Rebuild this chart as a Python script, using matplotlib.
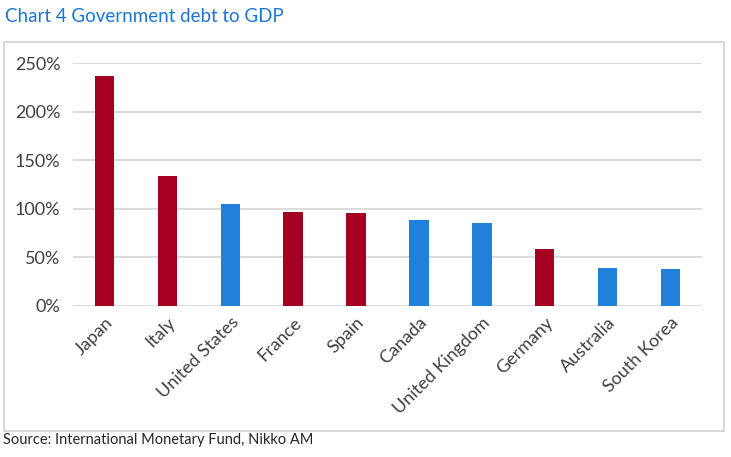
import matplotlib
matplotlib.use("Agg")
import matplotlib.pyplot as plt
from matplotlib.patches import Rectangle
from matplotlib.ticker import FuncFormatter

countries = ["Japan", "Italy", "United States", "France", "Spain", "Canada",
             "United Kingdom", "Germany", "Australia", "South Korea"]
debt_pct = [237, 134, 105, 97, 96, 88, 85, 59, 39, 38]
group = ["red", "red", "blue", "red", "red", "blue", "blue", "red", "blue", "blue"]
yticks = [0, 50, 100, 150, 200, 250]

palette = {"red": "#A50021", "blue": "#2180DA"}
plt.rcParams['font.family'] = ['Lato', 'DejaVu Sans']

W, H = 731, 457
fig = plt.figure(figsize=(W / 100, H / 100), dpi=100)
ax = fig.add_axes([73 / W, 1 - 306 / H, (702 - 73) / W, (306 - 63) / H])

x = list(range(len(countries)))
ax.bar(x, debt_pct, width=0.31, color=[palette[g] for g in group], zorder=3)
ax.set_xlim(-0.5, len(countries) - 0.5)
ax.set_ylim(0, 250)
ax.set_yticks(yticks)
ax.yaxis.set_major_formatter(FuncFormatter(lambda v, p: f"{v:.0f}%"))
ax.grid(axis="y", color="#D9D9D9", linewidth=1.3, zorder=0)
for s in ax.spines.values():
    s.set_visible(False)
ax.tick_params(axis="both", length=0, colors="#404040", labelsize=13)
ax.tick_params(axis="y", pad=9)
ax.set_xticks(x)
ax.set_xticklabels(countries, rotation=45, ha="right", rotation_mode="anchor")
ax.tick_params(axis="x", pad=6)

# border box
fig.patches.append(Rectangle((4 / W, 1 - 431 / H), (724 - 4) / W, (431 - 42) / H,
                             transform=fig.transFigure, fill=False,
                             edgecolor="#D9D9D9", linewidth=1.5))

fig.text(5 / W, 1 - 17 / H, "Chart 4 Government debt to GDP", color="#1A75D8",
         fontsize=13.5, va="center", ha="left")
fig.text(3 / W, 1 - 440 / H, "Source: International Monetary Fund, Nikko AM",
         color="#262626", fontsize=10.5, va="center", ha="left")

fig.savefig("out.png", dpi=100)
